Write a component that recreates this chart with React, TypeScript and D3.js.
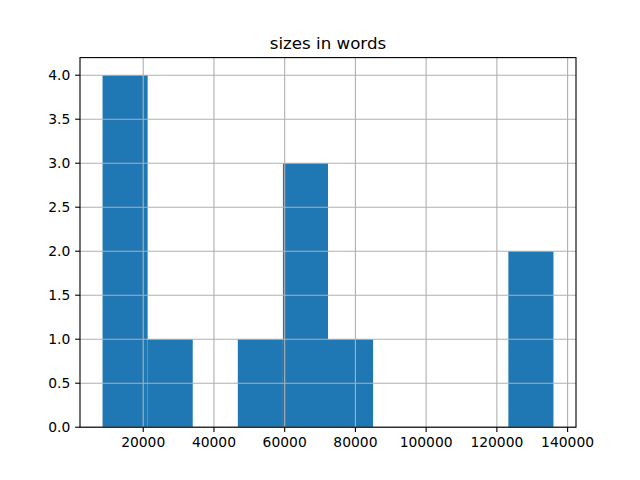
import React from "react";
import * as d3 from "d3";

const sizes: number[] = [8500, 12000, 15000, 19000, 28000, 55000, 62000, 66000, 70000, 80000, 128000, 136000];
const xTicks: number[] = [20000, 40000, 60000, 80000, 100000, 120000, 140000];
const yTicks: number[] = [0, 0.5, 1, 1.5, 2, 2.5, 3, 3.5, 4];
const title = "sizes in words";
const binCount = 10;

export default function App() {
  const W = 640, H = 480;
  const left = 80, right = 576, top = 57.6, bottom = 427.2;
  const pt = 100 / 72;
  const mn = d3.min(sizes)!, mx = d3.max(sizes)!;
  const step = (mx - mn) / binCount;
  const edges = d3.range(1, binCount).map((i) => mn + i * step);
  const bins = d3.bin().domain([mn, mx]).thresholds(edges)(sizes);
  const pad = (mx - mn) * 0.05;
  const x = d3.scaleLinear().domain([mn - pad, mx + pad]).range([left, right]);
  const maxC = d3.max(bins, (b) => b.length)!;
  const y = d3.scaleLinear().domain([0, maxC * 1.05]).range([bottom, top]);
  const font = "DejaVu Sans, sans-serif";
  const lw = 0.8 * pt;
  const tl = 3.5 * pt;
  const fs = 10 * pt;
  return (
    <svg width={W} height={H} style={{ position: "absolute", left: 0, top: 0 }} fontFamily={font}>
      <rect width={W} height={H} fill="#fff" />
      {bins.map((b, i) => (
        <rect key={i} x={x(b.x0!)} y={y(b.length)} width={x(b.x1!) - x(b.x0!)} height={bottom - y(b.length)} fill="#1f77b4" />
      ))}
      {xTicks.map((t) => (
        <line key={"gx" + t} x1={x(t)} x2={x(t)} y1={top} y2={bottom} stroke="#b0b0b0" strokeWidth={lw} />
      ))}
      {yTicks.map((t) => (
        <line key={"gy" + t} x1={left} x2={right} y1={y(t)} y2={y(t)} stroke="#b0b0b0" strokeWidth={lw} />
      ))}
      <rect x={left} y={top} width={right - left} height={bottom - top} fill="none" stroke="#000" strokeWidth={lw} />
      {xTicks.map((t) => (
        <g key={"tx" + t}>
          <line x1={x(t)} x2={x(t)} y1={bottom} y2={bottom + tl} stroke="#000" strokeWidth={lw} />
          <text x={x(t)} y={bottom + 2 * tl + fs * 0.76} fontSize={fs} textAnchor="middle" fill="#000">{t}</text>
        </g>
      ))}
      {yTicks.map((t) => (
        <g key={"ty" + t}>
          <line x1={left - tl} x2={left} y1={y(t)} y2={y(t)} stroke="#000" strokeWidth={lw} />
          <text x={left - 2 * tl} y={y(t)} dy="0.36em" fontSize={fs} textAnchor="end" fill="#000">{t.toFixed(1)}</text>
        </g>
      ))}
      <text x={(left + right) / 2} y={top - 6 * pt} fontSize={12 * pt} textAnchor="middle" fill="#000">{title}</text>
    </svg>
  );
}
